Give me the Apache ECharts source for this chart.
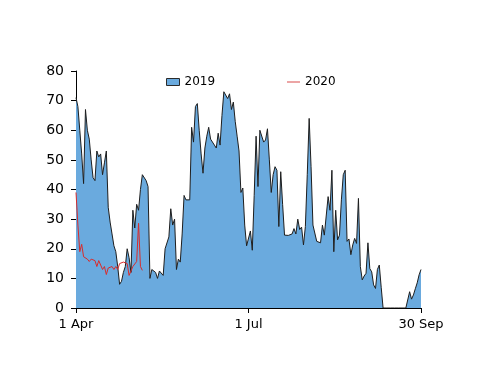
<!DOCTYPE html>
<html>
<head>
<meta charset="utf-8">
<script src="https://cdn.jsdelivr.net/npm/echarts@6/dist/echarts.min.js"></script>
<style>html,body{margin:0;padding:0;background:#fff}#c{width:500px;height:386px}</style>
</head>
<body>
<div id="c"></div>
<script>
// Day index 0 = 1 Apr, 182 = 30 Sep
const xTickDays = [0, 91, 182];
const xTickLabels = ['1 Apr', '1 Jul', '30 Sep'];
const yTicks = [0, 10, 20, 30, 40, 50, 60, 70, 80];

const values2019 = [
  71, 68, 60, 52, 42, 67, 60, 57, 50, 44,
  43, 53, 51, 52, 45, 49, 53, 34, 29, 25,
  21, 19, 14, 8, 9, 12, 14, 20, 17, 12,
  33, 27, 35, 33, 40, 45, 45, 43, 41, 10,
  13, 13.5, 12, 10, 12.5, 12, 11, 20, 19.5, 24,
  33.5, 28, 30, 13, 16.5, 15.5, 25, 38, 36.5, 36.5,
  36.5, 61, 56, 68, 69, 60, 52, 45.5, 54, 58,
  61, 57, 56.5, 55, 54, 59, 55, 65, 73, 72.6,
  70.7, 72.3, 67, 69.5, 63, 58, 53, 39, 40.5, 28,
  21, 20.5, 26, 19.5, 38, 58, 41, 60, 60.5, 56,
  56.7, 60.5, 50, 39, 45, 47.7, 46.5, 27.5, 46, 35,
  24.6, 24.6, 24.5, 24.4, 25, 26.8, 25, 30, 26.5, 27.3,
  21.3, 27.5, 45, 64, 47.7, 28, 27.5, 22.5, 23, 22,
  28, 24.6, 25, 37.6, 33, 46.5, 19, 33, 23, 24.6,
  36.5, 45, 46.5, 22.5, 23.3, 18, 21.3, 23.5, 21.8, 37,
  14, 9.5, 10.8, 11.7, 22, 13.3, 12.2, 7.8, 6.6, 13,
  14.5, 7, 0, 0, 0, 0, 0, 0, 0, 0,
  0, 0, 0, 0, 0, 0, 5.5, 3, 4.4, 6.5,
  8.5, 11.2, 13
];

const values2020 = [
  39, 28, 19, 21.5, 17.3, 17, 16.5, 15.7, 16.5, 16.2,
  16, 14, 16, 14.5, 13, 14, 11.3, 13.5, 13.5, 14,
  13, 14, 13, 15, 15.5, 15.5, 15.3, 15, 11, 11.3,
  14, 13.5, 15.7, 28.6, 14, 12.7
];

const toPairs = arr => arr.map((v, i) => [i, v]);

const chart = echarts.init(document.getElementById('c'), null, {renderer: 'canvas'});
const font = 'DejaVu Sans';
chart.setOption({
  animation: false,
  backgroundColor: '#ffffff',
  grid: {left: 76, right: 79, top: 71, bottom: 78, containLabel: false},
  legend: [
    {
      data: ['2019'], left: 161, top: 71, itemWidth: 13, itemHeight: 7, itemGap: 4,
      icon: 'rect',
      itemStyle: {color: '#6aaade', borderColor: '#2b2b2b', borderWidth: 1},
      textStyle: {fontFamily: font, fontSize: 12, color: '#000'}
    },
    {
      data: ['2020'], left: 282, top: 71, itemWidth: 13, itemHeight: 1, itemGap: 4,
      icon: 'rect',
      itemStyle: {color: '#d94b4b', borderWidth: 0},
      textStyle: {fontFamily: font, fontSize: 12, color: '#000'}
    }
  ],
  xAxis: {
    type: 'value', min: 0, max: 182, interval: 91,
    axisLine: {lineStyle: {color: '#000', width: 1}},
    axisTick: {show: true, length: 5, lineStyle: {color: '#000'}},
    splitLine: {show: false},
    axisLabel: {
      fontFamily: font, fontSize: 13, color: '#000', margin: 10,
      formatter: v => { const k = xTickDays.indexOf(v); return k >= 0 ? xTickLabels[k] : ''; }
    }
  },
  yAxis: {
    type: 'value', min: yTicks[0], max: yTicks[yTicks.length - 1], interval: 10,
    axisLine: {show: true, lineStyle: {color: '#000', width: 1}},
    axisTick: {show: true, length: 5, inside: false, lineStyle: {color: '#000'}},
    splitLine: {show: false},
    axisLabel: {fontFamily: font, fontSize: 14, color: '#000', margin: 12}
  },
  series: [
    {
      name: '2019', type: 'line', data: toPairs(values2019),
      symbol: 'none', smooth: false,
      lineStyle: {color: '#1e1e1e', width: 1},
      itemStyle: {color: '#6aaade'},
      areaStyle: {color: '#6aaade', opacity: 1},
      z: 2
    },
    {
      name: '2020', type: 'line', data: toPairs(values2020),
      symbol: 'none', smooth: false,
      lineStyle: {color: '#d92b2b', width: 1},
      itemStyle: {color: '#d94b4b'},
      z: 3
    }
  ]
});
</script>
</body>
</html>
